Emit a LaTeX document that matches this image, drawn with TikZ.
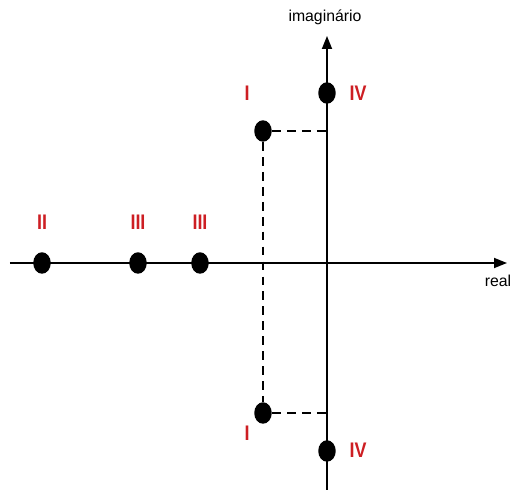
\documentclass[tikz,border=0pt]{standalone}
\usepackage{fontspec}
\setmainfont{Liberation Sans}
\usepackage{xcolor}
\usetikzlibrary{arrows.meta, positioning, shapes.geometric}

\definecolor{rootred}{RGB}{205,30,35}

\begin{document}
\begin{tikzpicture}[
    x=0.02cm, y=-0.02cm,
    dot/.style={ellipse, fill=black, inner sep=0pt, minimum width=0.35cm, minimum height=0.43cm},
    root/.style={text=rootred, font=\bfseries\large, inner sep=1pt, xscale=0.85, transform shape},
    axis/.style={-{Triangle[length=2.6mm, width=2mm]}, line width=1pt},
    proj/.style={dashed, dash pattern=on 5pt off 3.5pt, line width=1pt},
    lbl/.style={font=\small, inner sep=1pt},
]
    \useasboundingbox (0,0) rectangle (512,490);

    % axes
    \coordinate (xl) at (10,263);
    \coordinate (xr) at (507,263);
    \coordinate (yb) at (327,490);
    \coordinate (yt) at (327,36);
    \draw[axis] (xl) -- (xr);
    \draw[axis] (yb) -- (yt);
    \node[lbl] (im) at (325,17) {imaginário};
    \node[lbl] (re) at (498,281) {real};

    % poles
    \node[dot] (p2)  at (42,263)  {};
    \node[dot] (p3a) at (138,263) {};
    \node[dot] (p3b) at (200,263) {};
    \node[dot] (p1a) at (263,131) {};
    \node[dot] (p1b) at (263,413) {};
    \node[dot] (p4a) at (327,93)  {};
    \node[dot] (p4b) at (327,451) {};

    \node[root] at (42,222)  {II};
    \node[root] at (138,222) {III};
    \node[root] at (200,222) {III};
    \node[root] at (247,93)  {I};
    \node[root] at (247,433) {I};
    \node[root] at (358,93)  {IV};
    \node[root] at (358,450) {IV};

    % projections
    \coordinate (ya) at (327,131);
    \coordinate (yc) at (327,413);
    \draw[proj] (p1a) -- (ya);
    \draw[proj] (p1a) -- (p1b);
    \draw[proj] (p1b) -- (yc);
\end{tikzpicture}
\end{document}
